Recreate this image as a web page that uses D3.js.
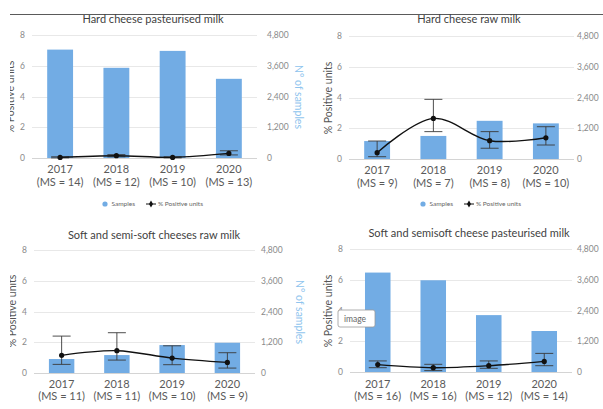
<!DOCTYPE html>
<html>
<head>
<meta charset="utf-8">
<script src="https://cdn.jsdelivr.net/npm/d3@7"></script>
<style>
  body { margin: 0; background: #fff; }
  svg { display: block; }
  text { font-family: Lato, "Open Sans", sans-serif; }
</style>
</head>
<body>
<svg id="chart" width="603" height="409"></svg>
<script>
// ---- data ----
const years = ["2017", "2018", "2019", "2020"];
const pctTicks = [0, 2, 4, 6, 8];
const sampleTicks = [0, 1200, 2400, 3600, 4800];

// Hard cheese, pasteurised milk
const hcPastMS = [14, 12, 10, 13];
const hcPastSamples = [4230, 3520, 4180, 3090];
const hcPastPct = [0.04, 0.15, 0.04, 0.30];
const hcPastLow = [0.01, 0.08, 0.01, 0.20];
const hcPastHigh = [0.08, 0.22, 0.08, 0.47];

// Hard cheese, raw milk
const hcRawMS = [9, 7, 8, 10];
const hcRawSamples = [700, 900, 1490, 1390];
const hcRawPct = [0.41, 2.64, 1.19, 1.38];
const hcRawLow = [0.15, 1.78, 0.70, 0.91];
const hcRawHigh = [1.17, 3.88, 1.78, 2.10];

// Soft and semi-soft cheeses, raw milk
const ssRawMS = [11, 11, 10, 9];
const ssRawSamples = [545, 700, 1090, 1180];
const ssRawPct = [1.15, 1.45, 0.97, 0.69];
const ssRawLow = [0.56, 0.84, 0.54, 0.32];
const ssRawHigh = [2.40, 2.62, 1.77, 1.32];

// Soft and semisoft cheese, pasteurised milk
const ssPastMS = [16, 16, 12, 14];
const ssPastSamples = [3880, 3580, 2220, 1600];
const ssPastPct = [0.48, 0.28, 0.41, 0.69];
const ssPastLow = [0.28, 0.09, 0.24, 0.41];
const ssPastHigh = [0.72, 0.50, 0.72, 1.21];

// ---- layout of the four small multiples ----
const panels = [
  { title: "Hard cheese pasteurised milk", ms: hcPastMS, samples: hcPastSamples,
    pct: hcPastPct, low: hcPastLow, high: hcPastHigh,
    x0: 32, x1: 257, yZero: 158, yTop: 35, leftLabelX: 25, rightLabelX: 267,
    yearY: 173, msY: 186, titleX: 153, titleY: 23,
    leftTitle: [14, 97], rightTitle: [295, 97], legend: [105, 204], clipLeft: 10 },
  { title: "Hard cheese raw milk", ms: hcRawMS, samples: hcRawSamples,
    pct: hcRawPct, low: hcRawLow, high: hcRawHigh,
    x0: 349, x1: 574, yZero: 159, yTop: 36, leftLabelX: 342, rightLabelX: 577,
    yearY: 174, msY: 187, titleX: 469, titleY: 23,
    leftTitle: [332, 98], rightTitle: null, legend: [423, 204], clipLeft: 300 },
  { title: "Soft and semi-soft cheeses raw milk", ms: ssRawMS, samples: ssRawSamples,
    pct: ssRawPct, low: ssRawLow, high: ssRawHigh,
    x0: 34, x1: 255, yZero: 373, yTop: 250, leftLabelX: 27, rightLabelX: 261,
    yearY: 388, msY: 400, titleX: 154, titleY: 239,
    leftTitle: [16, 311], rightTitle: [296, 312], legend: null, clipLeft: 10 },
  { title: "Soft and semisoft cheese pasteurised milk", ms: ssPastMS, samples: ssPastSamples,
    pct: ssPastPct, low: ssPastLow, high: ssPastHigh,
    x0: 350, x1: 572, yZero: 372, yTop: 249, leftLabelX: 343, rightLabelX: 577,
    yearY: 388, msY: 400, titleX: 469, titleY: 237,
    leftTitle: [332, 311], rightTitle: null, legend: null, clipLeft: 300 }
];

const barColor = "#72ace4";
const axisTitleBlue = "#8ec4ee";
const tickColor = "#8a8a8a";
const svg = d3.select("#chart");

// rule across the top of the figure
svg.append("line")
  .attr("x1", 10).attr("x2", 603).attr("y1", 14.5).attr("y2", 14.5)
  .attr("stroke", "#5a5a5a").attr("stroke-width", 1);

panels.forEach((p, i) => {
  const clipId = "clip" + i;
  svg.append("clipPath").attr("id", clipId)
    .append("rect").attr("x", p.clipLeft).attr("y", 0)
    .attr("width", 320).attr("height", 409);

  const g = svg.append("g").attr("clip-path", `url(#${clipId})`);

  const x = d3.scaleBand().domain(years).range([p.x0, p.x1])
    .paddingInner(0.54).paddingOuter(0.27);
  const yPct = d3.scaleLinear().domain([0, 8]).range([p.yZero, p.yTop]);
  const ySamples = d3.scaleLinear().domain([0, 4800]).range([p.yZero, p.yTop]);

  // horizontal gridlines
  g.append("g").selectAll("line").data(pctTicks).join("line")
    .attr("x1", p.x0).attr("x2", p.x1)
    .attr("y1", d => Math.round(yPct(d)) + 0.5).attr("y2", d => Math.round(yPct(d)) + 0.5)
    .attr("stroke", d => d === 0 ? "#d4d4d4" : "#e8e8e8").attr("stroke-width", 1);

  // left axis (% positive units)
  const leftAxis = d3.axisLeft(yPct).tickValues(pctTicks).tickSize(0).tickPadding(0);
  const la = g.append("g").attr("transform", `translate(${p.leftLabelX},0)`).call(leftAxis);
  la.select(".domain").remove();
  la.selectAll("text").attr("fill", tickColor).style("font-size", "8.5px")
    .style("font-family", "Lato, sans-serif");

  // right axis (number of samples)
  const rightAxis = d3.axisRight(ySamples).tickValues(sampleTicks)
    .tickFormat(d3.format(",")).tickSize(0).tickPadding(0);
  const ra = g.append("g").attr("transform", `translate(${p.rightLabelX},0)`).call(rightAxis);
  ra.select(".domain").remove();
  ra.selectAll("text").attr("fill", tickColor).style("font-size", "8.5px")
    .style("font-family", "Lato, sans-serif");

  // sample bars
  g.append("g").selectAll("rect").data(years).join("rect")
    .attr("x", d => x(d))
    .attr("width", x.bandwidth())
    .attr("y", (d, j) => ySamples(p.samples[j]))
    .attr("height", (d, j) => ySamples(0) - ySamples(p.samples[j]))
    .attr("fill", barColor);

  // category labels
  const cx = d => x(d) + x.bandwidth() / 2;
  g.append("g").selectAll("text").data(years).join("text")
    .attr("x", cx).attr("y", p.yearY)
    .attr("text-anchor", "middle").attr("fill", "#5a5a5a")
    .style("font-size", "11px").text(d => d);
  g.append("g").selectAll("text").data(years).join("text")
    .attr("x", cx).attr("y", p.msY)
    .attr("text-anchor", "middle").attr("fill", "#5a5a5a")
    .style("font-size", "11px").text((d, j) => `(MS = ${p.ms[j]})`);

  // error bars
  const eb = g.append("g").attr("stroke", "#3a3a3a").attr("stroke-width", 0.9);
  years.forEach((d, j) => {
    const xc = cx(d);
    const yl = yPct(p.low[j]), yh = yPct(p.high[j]);
    eb.append("line").attr("x1", xc).attr("x2", xc).attr("y1", yl).attr("y2", yh);
    eb.append("line").attr("x1", xc - 9).attr("x2", xc + 9).attr("y1", yl).attr("y2", yl);
    eb.append("line").attr("x1", xc - 9).attr("x2", xc + 9).attr("y1", yh).attr("y2", yh);
  });

  // smoothed % positive line with markers
  const line = d3.line()
    .x(d => cx(d))
    .y((d, j) => yPct(p.pct[j]))
    .curve(d3.curveCatmullRom.alpha(0.5));
  g.append("path").datum(years).attr("d", line)
    .attr("fill", "none").attr("stroke", "#111").attr("stroke-width", 1.4);
  g.append("g").selectAll("circle").data(years).join("circle")
    .attr("cx", cx).attr("cy", (d, j) => yPct(p.pct[j])).attr("r", 2.6)
    .attr("fill", "#111");

  // panel title
  g.append("text").attr("x", p.titleX).attr("y", p.titleY)
    .attr("text-anchor", "middle").attr("fill", "#3f3f3f")
    .style("font-size", "11px").text(p.title);

  // axis titles
  g.append("text")
    .attr("transform", `translate(${p.leftTitle[0]},${p.leftTitle[1]}) rotate(-90)`)
    .attr("text-anchor", "middle").attr("fill", "#555")
    .style("font-size", "10.5px").text("% Positive units");
  if (p.rightTitle) {
    svg.append("text")
      .attr("transform", `translate(${p.rightTitle[0]},${p.rightTitle[1]}) rotate(90)`)
      .attr("text-anchor", "middle").attr("fill", axisTitleBlue)
      .style("font-size", "10.5px").text("N° of samples");
  }

  // legend
  if (p.legend) {
    const [lx, ly] = p.legend;
    const lg = svg.append("g").attr("transform", `translate(${lx},${ly})`);
    lg.append("circle").attr("cx", 0).attr("cy", 0).attr("r", 2.6).attr("fill", barColor);
    lg.append("text").attr("x", 6.5).attr("y", 2.2).attr("fill", "#666")
      .style("font-size", "6.5px").text("Samples");
    lg.append("line").attr("x1", 41).attr("x2", 51).attr("y1", 0).attr("y2", 0)
      .attr("stroke", "#111").attr("stroke-width", 1);
    lg.append("path").attr("transform", "translate(46,0)")
      .attr("d", d3.symbol(d3.symbolDiamond, 14)()).attr("fill", "#111");
    lg.append("text").attr("x", 53).attr("y", 2.2).attr("fill", "#666")
      .style("font-size", "6.5px").text("% Positive units");
  }
});

// placeholder tag sitting over the last panel
const tag = svg.append("g").attr("transform", "translate(338,310)");
tag.append("rect").attr("width", 37).attr("height", 17).attr("rx", 2)
  .attr("fill", "#fff").attr("stroke", "#9a9a9a").attr("stroke-width", 0.8);
tag.append("text").attr("x", 6).attr("y", 11.5).attr("fill", "#666")
  .style("font-size", "8.5px").text("image");
</script>
</body>
</html>
